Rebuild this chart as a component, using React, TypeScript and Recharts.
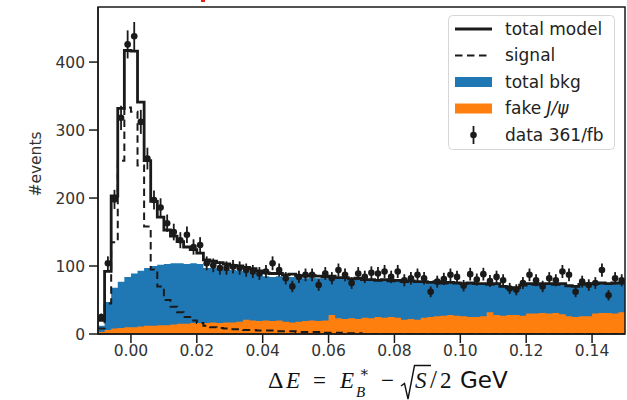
import {
  ComposedChart,
  Area,
  Line,
  Scatter,
  ErrorBar,
  XAxis,
  YAxis,
  Legend,
  ReferenceArea,
} from 'recharts'

// histogram binning: 80 bins of 0.002 GeV starting at -0.01
const BIN_LO = -0.01
const BIN_WIDTH = 0.002
const X_MIN = -0.01
const X_MAX = 0.15
const Y_MAX = 481

const signal = [
  8, 45, 135, 255, 333, 327, 248, 158, 95, 70,
  50, 40, 32, 25, 20, 16, 12, 10, 9, 8,
  7, 7, 6, 6, 5, 5, 5, 4, 4, 4,
  3, 3, 3, 3, 2, 2, 2, 1, 1, 1,
  0, 0, 0, 0, 0, 0, 0, 0, 0, 0,
  0, 0, 0, 0, 0, 0, 0, 0, 0, 0,
  0, 0, 0, 0, 0, 0, 0, 0, 0, 0,
  0, 0, 0, 0, 0, 0, 0, 0, 0, 0,
]

const totalBkg = [
  12, 47, 68, 77, 84, 89, 93, 97, 100, 102,
  103, 104, 104, 103, 104, 103, 97, 97, 96, 95,
  94, 93, 92, 90, 88, 85, 84, 85, 83, 84,
  83, 82, 83, 82, 82, 83, 81, 82, 80, 81,
  80, 80, 79, 80, 78, 79, 77, 78, 77, 77,
  76, 77, 75, 76, 75, 74, 75, 74, 74, 73,
  74, 70, 68, 68, 72, 74, 73, 74, 74, 73,
  74, 71, 70, 73, 74, 74, 75, 74, 75, 75,
]

const fakeJpsi = [
  3, 6, 8, 9, 10, 10, 11, 12, 12, 13,
  13, 14, 15, 15, 16, 16, 16, 17, 16, 17,
  17, 18, 21, 20, 19, 20, 19, 20, 18, 17,
  18, 19, 20, 19, 20, 28, 23, 22, 23, 22,
  24, 23, 25, 24, 25, 24, 21, 22, 21, 24,
  25, 26, 27, 28, 27, 26, 25, 25, 26, 32,
  28, 27, 28, 28, 27, 30, 30, 31, 30, 31,
  29, 26, 25, 26, 26, 30, 31, 31, 30, 32,
]

const dataCounts = [
  25, 104, 198, 318, 426, 438, 312, 258, 197, 186,
  163, 150, 138, 146, 128, 131, 104, 101, 97, 97,
  99, 97, 94, 92, 89, 92, 104, 94, 82, 70,
  84, 87, 87, 72, 89, 82, 94, 87, 75, 89,
  84, 90, 89, 92, 84, 92, 79, 82, 87, 82,
  62, 77, 81, 87, 84, 71, 88, 80, 88, 78,
  84, 79, 67, 65, 75, 87, 79, 70, 82, 79,
  92, 87, 62, 77, 72, 75, 94, 57, 82, 79,
]

const X_TICKS = [0, 0.02, 0.04, 0.06, 0.08, 0.1, 0.12, 0.14]
const Y_TICKS = [0, 100, 200, 300, 400]

const BLUE = '#1f77b4'
const ORANGE = '#ff7f0e'
const INK = '#1a1a1a'
const DASH = '7.5 4.5'

// one row per bin edge; the closing edge repeats the last bin so the steps reach 0.15
const stepRows = Array.from({ length: signal.length + 1 }, (_, i) => {
  const k = Math.min(i, signal.length - 1)
  return {
    x: BIN_LO + i * BIN_WIDTH,
    signal: signal[k],
    bkg: totalBkg[k],
    fake: fakeJpsi[k],
    total: signal[k] + totalBkg[k],
  }
})

const dataPoints = dataCounts.map((n, i) => ({
  x: BIN_LO + (i + 0.5) * BIN_WIDTH,
  y: n,
  err: Math.sqrt(n),
}))

const tickStyle = { fontFamily: 'DejaVu Sans', fontSize: 15.5, fill: '#333' }

function LegendBox() {
  const rowY = (k: number) => 14 + k * 26.5
  const text = { fontFamily: 'DejaVu Sans', fontSize: 17, fill: '#222' }
  return (
    <svg width={167} height={135} style={{ display: 'block' }}>
      <rect x={0.5} y={0.5} width={166} height={134} rx={4} fill="#fff" fillOpacity={0.85} stroke="#d6d6d6" />
      <line x1={7} x2={44} y1={rowY(0)} y2={rowY(0)} stroke={INK} strokeWidth={2.8} />
      <line x1={7} x2={39} y1={rowY(1)} y2={rowY(1)} stroke={INK} strokeWidth={2} strokeDasharray={DASH} />
      <rect x={7} y={rowY(2) - 5} width={37} height={10} fill={BLUE} />
      <rect x={7} y={rowY(3) - 5} width={37} height={10} fill={ORANGE} />
      <line x1={25.5} x2={25.5} y1={rowY(4) - 9} y2={rowY(4) + 9} stroke={INK} strokeWidth={1.8} />
      <circle cx={25.5} cy={rowY(4)} r={3.3} fill={INK} />
      <text x={57} y={rowY(0)} dy="0.35em" {...text}>total model</text>
      <text x={57} y={rowY(1)} dy="0.35em" {...text}>signal</text>
      <text x={57} y={rowY(2)} dy="0.35em" {...text}>total bkg</text>
      <text x={57} y={rowY(3)} dy="0.35em" {...text}>
        fake <tspan fontStyle="italic">J/ψ</tspan>
      </text>
      <text x={57} y={rowY(4)} dy="0.35em" {...text}>data 361/fb</text>
    </svg>
  )
}

// ΔE = E*_B − √S/2 GeV, set piece by piece like a typeset formula
function DeltaETitle() {
  const serif = 'Liberation Serif, DejaVu Serif, serif'
  const base = 388
  return (
    <g fill="#111" fontFamily={serif} fontSize={23}>
      <text x={268} y={base} fontSize={24}>Δ</text>
      <text x={286} y={base} fontStyle="italic">E</text>
      <text x={313} y={base}>=</text>
      <text x={340} y={base} fontStyle="italic">E</text>
      <text x={359} y={377} fontSize={15}>∗</text>
      <text x={356} y={397} fontSize={15} fontStyle="italic">B</text>
      <text x={381} y={base}>−</text>
      <path
        d="M401 386 L404.5 383.5 L408 399 L414.5 365.5 L431 365.5"
        fill="none"
        stroke="#111"
        strokeWidth={1.4}
      />
      <text x={415} y={base} fontStyle="italic">S</text>
      <text x={430} y={base} fontSize={25}>/</text>
      <text x={440} y={base}>2</text>
      <text x={460} y={base} fontFamily="DejaVu Sans" fontSize={23}>GeV</text>
    </g>
  )
}

function EventsTitle() {
  return (
    <text
      x={36}
      y={164}
      transform="rotate(-90 36 164)"
      textAnchor="middle"
      dominantBaseline="central"
      fontFamily="DejaVu Sans"
      fontSize={15.5}
      fill="#333"
    >
      #events
    </text>
  )
}

export default function App() {
  return (
    <div style={{ position: 'absolute', left: 0, top: 0, width: 627, height: 400, background: '#fff' }}>
      <div style={{ position: 'absolute', left: 201, top: 0, width: 4, height: 2, background: '#e8201c' }} />
      <ComposedChart
        width={627}
        height={400}
        data={stepRows}
        margin={{ top: 7, right: 2, bottom: 0, left: 0 }}
        style={{ fontFamily: 'DejaVu Sans' }}
      >
        <XAxis
          dataKey="x"
          type="number"
          domain={[X_MIN, X_MAX]}
          allowDataOverflow
          ticks={X_TICKS}
          tickFormatter={(v: number) => v.toFixed(2)}
          tick={tickStyle}
          tickSize={9}
          tickMargin={2}
          height={66}
          stroke={INK}
          strokeWidth={1.5}
          label={{ content: () => <DeltaETitle /> }}
        />
        <YAxis
          type="number"
          domain={[0, Y_MAX]}
          allowDataOverflow
          ticks={Y_TICKS}
          tick={tickStyle}
          tickSize={9}
          tickMargin={4}
          width={98}
          stroke={INK}
          strokeWidth={1.5}
          label={{ content: () => <EventsTitle /> }}
        />
        <Area
          type="stepAfter"
          dataKey="bkg"
          fill={BLUE}
          fillOpacity={1}
          stroke="none"
          baseValue={0}
          isAnimationActive={false}
        />
        <Area
          type="stepAfter"
          dataKey="fake"
          fill={ORANGE}
          fillOpacity={1}
          stroke="none"
          baseValue={0}
          isAnimationActive={false}
        />
        <Line
          type="stepAfter"
          dataKey="signal"
          stroke={INK}
          strokeWidth={2}
          strokeDasharray={DASH}
          dot={false}
          isAnimationActive={false}
        />
        <Line
          type="stepAfter"
          dataKey="total"
          stroke={INK}
          strokeWidth={2.8}
          dot={false}
          isAnimationActive={false}
        />
        <Scatter
          data={dataPoints}
          dataKey="y"
          fill={INK}
          isAnimationActive={false}
          shape={(p: any) => <circle cx={p.cx} cy={p.cy} r={3.3} fill={INK} />}
        >
          <ErrorBar dataKey="err" direction="y" width={0} stroke={INK} strokeWidth={1.8} />
        </Scatter>
        {/* full box frame around the plot area */}
        <ReferenceArea
          x1={X_MIN}
          x2={X_MAX}
          y1={0}
          y2={Y_MAX}
          fill="none"
          fillOpacity={0}
          stroke={INK}
          strokeWidth={1.5}
          strokeOpacity={1}
        />
        <Legend
          layout="vertical"
          align="center"
          verticalAlign="middle"
          wrapperStyle={{ left: 448, top: 15, width: 167, height: 135 }}
          content={() => <LegendBox />}
        />
      </ComposedChart>
    </div>
  )
}
